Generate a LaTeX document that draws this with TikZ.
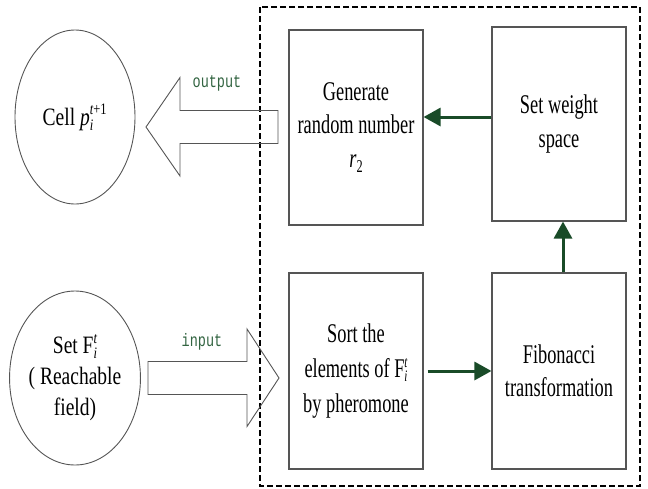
\documentclass[tikz,border=0pt]{standalone}
\usepackage{fontspec}
\setmainfont{Liberation Serif}[FakeStretch=0.68]
\newfontfamily\ellfont{Liberation Serif}[FakeStretch=0.78]
\newfontfamily\labfont{Liberation Mono}[FakeStretch=0.75]
\usetikzlibrary{shapes.geometric,arrows.meta}
\definecolor{arrgreen}{RGB}{25,75,40}
\definecolor{labgreen}{RGB}{50,100,65}
\definecolor{edgegray}{RGB}{85,85,85}
\newcommand{\scr}[1]{{\fontsize{16}{16}\selectfont\itshape #1}}
\newcommand{\Fit}{F\rlap{\raisebox{10pt}{\scr{t}}}\raisebox{-4.5pt}{\scr{i}}}
\begin{document}
\begin{tikzpicture}[x=1pt,y=-1pt,
  procbox/.style={draw=edgegray,line width=1.1pt,minimum width=134pt,minimum height=195pt,
    inner sep=0pt,align=center,font=\fontsize{27}{33.5}\selectfont},
  ellnode/.style={draw=edgegray,line width=0.9pt,ellipse,minimum width=120pt,minimum height=174pt,
    inner sep=0pt,align=center,font=\ellfont\fontsize{25}{31}\selectfont},
  garrow/.style={draw=arrgreen,line width=3pt,-{Triangle[length=17pt,width=18pt]}},
  blockarrow/.style={draw=edgegray,line width=0.9pt,line join=miter},
  lab/.style={text=labgreen,font=\labfont\fontsize{18}{20}\selectfont,inner sep=0pt}]
\useasboundingbox (0,0) rectangle (648,488);
% dashed frame
\draw[line width=1.6pt,dash pattern=on 6pt off 3pt] (260,7) rectangle (640,486);
% ellipses
\node[ellnode] (cell) at (75,117) {Cell \textit{p}\rlap{\raisebox{11pt}{\scr{t{\upshape +1}}}}\raisebox{-5pt}{\scr{i}}\hspace{14pt}};
\node[ellnode] (setF) at (75,378) {Set \Fit\\( Reachable\\field)};
% process boxes
\node[procbox] (gen) at (356,127.5) {Generate\\random number\\\textit{r}\raisebox{-5pt}{\fontsize{18}{18}\selectfont 2}};
\node[procbox,minimum height=194pt] (sw) at (559,124) {Set weight\\space};
\node[procbox,minimum height=196pt,font=\fontsize{27}{35}\selectfont] (sort) at (356,371) {Sort the\\elements of \Fit\\by pheromone};
\node[procbox,minimum height=196pt] (fib) at (559,371) {Fibonacci\\transformation};
% green arrows
\coordinate (yA) at (0,117);
\coordinate (xA) at (563,0);
\draw[garrow] (sw.west |- yA) -- (gen.east |- yA);
\draw[garrow] (fib.north -| xA) -- (sw.south -| xA);
\draw[garrow,shorten <=4pt] (sort.east) -- (fib.west);
% block arrows
\coordinate (outtail) at (278,127);
\coordinate (outtip) at (146,127);
\draw[blockarrow] (outtail) ++(0,-16.5) -- ++(-98,0) -- ++(0,-33) -- (outtip)
  -- ++(34,49) -- ++(0,-32.5) -- ++(98,0) -- cycle;
\coordinate (intail) at (148,378);
\coordinate (intip) at (279,378);
\draw[blockarrow] (intail) ++(0,-16.5) -- ++(99,0) -- ++(0,-32.5) -- (intip)
  -- ++(-32,48.5) -- ++(0,-32) -- ++(-99,0) -- cycle;
% labels
\node[lab] (outlab) at (217,83) {output};
\node[lab] (inlab) at (202,342) {input};
\end{tikzpicture}
\end{document}
